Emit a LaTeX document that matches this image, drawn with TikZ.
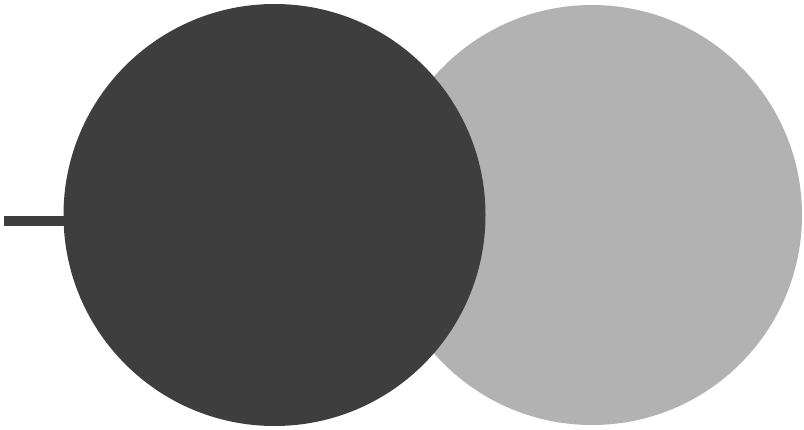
\documentclass[tikz,border=0pt]{standalone}
\usepackage{tikz}
\usetikzlibrary{positioning,calc}

\definecolor{discdark}{RGB}{62,62,62}
\definecolor{disclight}{RGB}{178,178,178}

\tikzset{
  disc/.style={circle, inner sep=0pt, draw=none},
  stub/.style={line width=10pt, draw=discdark}
}

\begin{document}
\begin{tikzpicture}[x=1pt,y=1pt]
  \useasboundingbox (0,0) rectangle (804,-429);
  % back disc first, front disc over it
  \node[disc, fill=disclight, minimum size=420pt] (back) at (592,-215) {};
  \node[disc, fill=discdark, minimum size=422pt] (front) at (274.5,-215) {};
  \coordinate (tail) at (4,-221);
  \draw[stub] (tail) -- ($(tail -| front.west)+(3,0)$);
\end{tikzpicture}
\end{document}
